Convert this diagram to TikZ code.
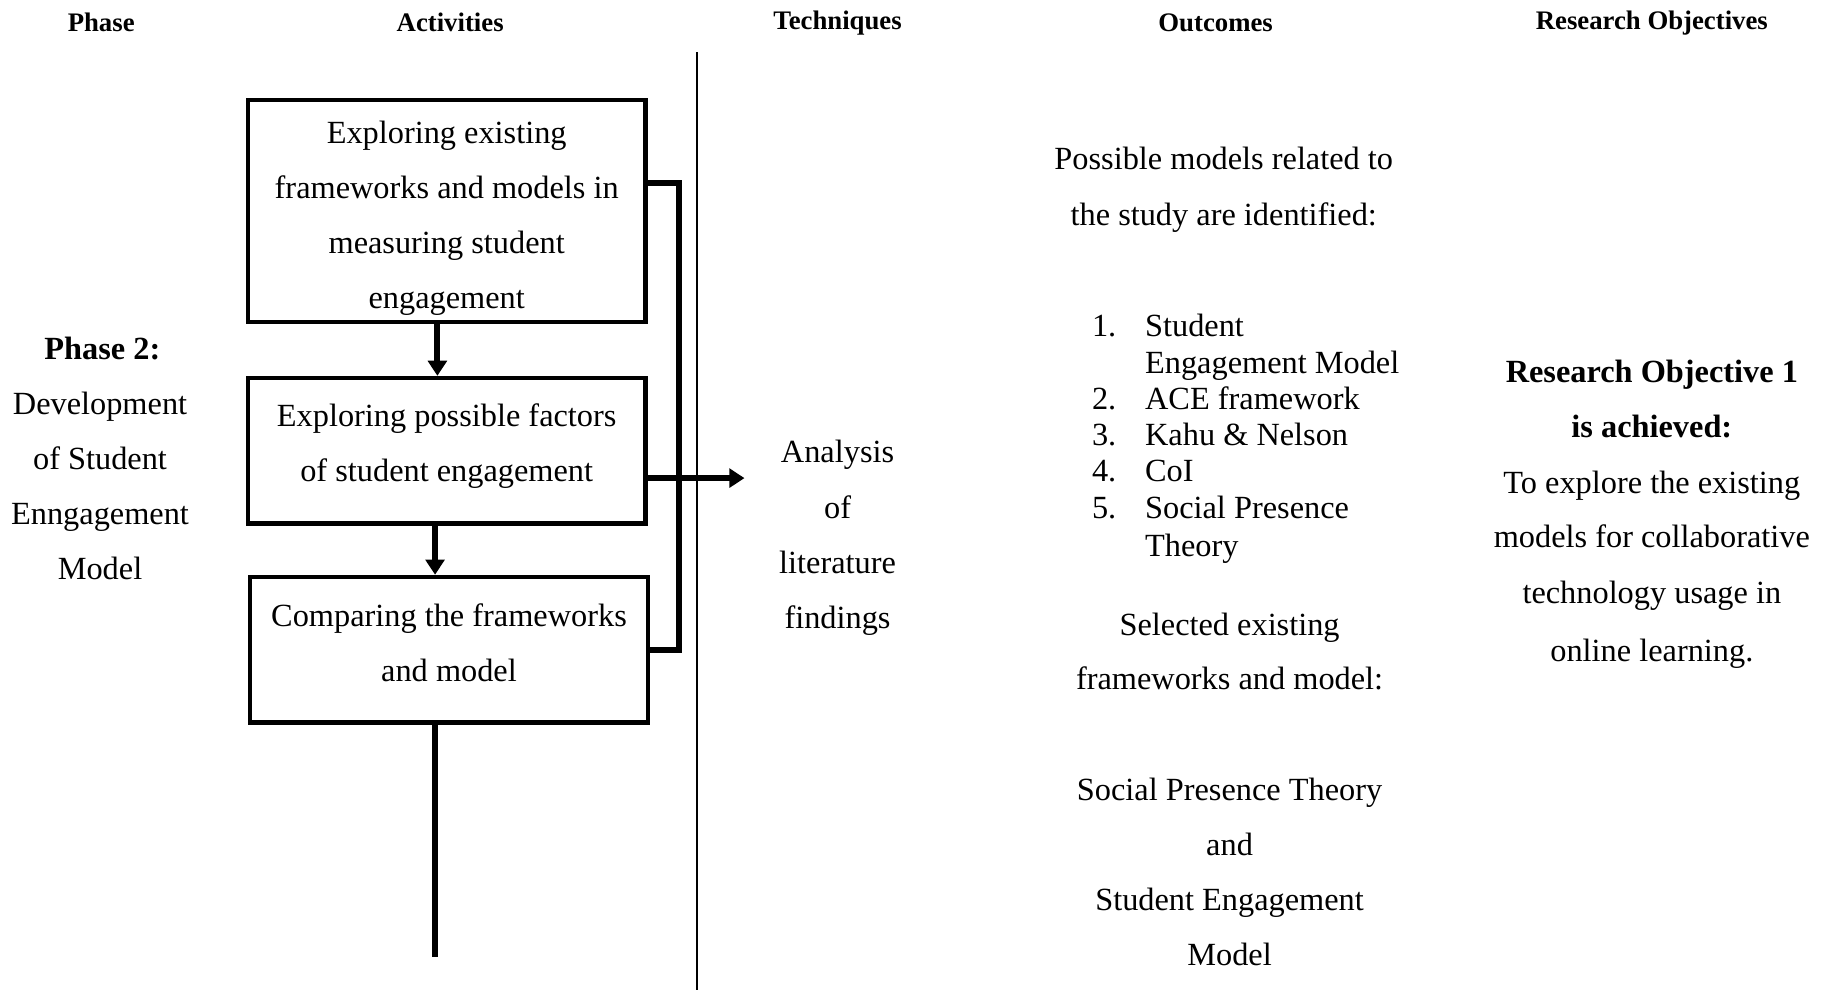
\documentclass[tikz,border=0pt]{standalone}
\usepackage{fontspec}
\setmainfont{Liberation Serif}
\usetikzlibrary{arrows.meta}
\begin{document}
\begin{tikzpicture}[x=0.5pt,y=-0.5pt,
  hdr/.style={font=\bfseries\fontsize{11.5}{14}\selectfont, anchor=base, inner sep=0pt},
  txt/.style={font=\fontsize{13.9}{16}\selectfont, anchor=base, inner sep=0pt},
  btxt/.style={font=\bfseries\fontsize{13.9}{16}\selectfont, anchor=base, inner sep=0pt},
  stepbox/.style={draw, line width=1.9pt, minimum width=171pt, inner sep=0pt},
  boxtext/.style={align=center, inner sep=0pt, font=\fontsize{13.9}{23.65}\selectfont},
  link/.style={line width=2.5pt},
  flow/.style={line width=2.5pt, -{Triangle[length=6.5pt,width=8pt]}},
  divider/.style={line width=1pt}]

\useasboundingbox (0,0) rectangle (1568,851);

% column headings
\node[hdr] (hPhase) at (87,27.5) {Phase};
\node[hdr] (hAct)   at (387,27.5) {Activities};
\node[hdr] (hTech)  at (720,25.5) {Techniques};
\node[hdr] (hOut)   at (1045,27.5) {Outcomes};
\node[hdr] (hRO)    at (1420,25.5) {Research Objectives};

% divider between activities and techniques
\coordinate (dtop) at (599,45);
\coordinate (dbot) at (599,851);
\draw[divider] (dtop) -- (dbot);

% phase
\node[btxt] (ph0) at (88,309) {Phase 2:};
\foreach \t [count=\i] in {Development, of Student, Enngagement, Model}
  \node[txt] (ph\i) at (86,{356+(\i-1)*47.4}) {\t};

% activity boxes and their texts
\node[stepbox, minimum height=95.5pt] (b1) at (384,181.5) {};
\node[stepbox, minimum height=62.5pt] (b2) at (384,387.5) {};
\node[stepbox, minimum height=62.5pt] (b3) at (386,558.5) {};
\node[boxtext] (b1t) at (384,187.5)
  {Exploring existing\\frameworks and models in\\measuring student\\engagement};
\node[boxtext] (b2t) at (384,383.5)
  {Exploring possible factors\\of student engagement};
\node[boxtext] (b3t) at (386,552.5)
  {Comparing the frameworks\\and model};

% flow between the boxes
\coordinate (c1) at (376,0);
\coordinate (c2) at (374,0);
\coordinate (tail) at (374,823);
\draw[flow] (b1.south -| c1) -- (b2.north -| c1);
\draw[flow] (b2.south -| c2) -- (b3.north -| c2);
\draw[link] (b3.south -| tail) -- (tail);

% feedback bracket and output to techniques
\coordinate (fb) at (584,157);
\draw[link] (b1.east |- fb) -- (fb) |- (b3.east);
\coordinate (out) at (640,411);
\draw[flow] (b2.east |- out) -- (out);

% techniques
\foreach \t [count=\i] in {Analysis, of, literature, findings}
  \node[txt] (tq\i) at (720,{398+(\i-1)*47.4}) {\t};

% outcomes
\node[txt] (o1) at (1052,146) {Possible models related to};
\node[txt] (o2) at (1052,194) {the study are identified:};

\foreach \n/\t/\yy [count=\i] in {1./Student/289, /Engagement Model/321,
    2./ACE framework/352, 3./Kahu \& Nelson/383, 4./CoI/414,
    5./Social Presence/446, /Theory/478}{
  \node[txt, anchor=base east] (ln\i) at (960,\yy) {\n};
  \node[txt, anchor=base west] (li\i) at (984,\yy) {\t};
}

\node[txt] (s1) at (1057,546) {Selected existing};
\node[txt] (s2) at (1057,593) {frameworks and model:};

\foreach \t [count=\i] in {Social Presence Theory, and, Student Engagement, Model}
  \node[txt] (sel\i) at (1057,{688+(\i-1)*47.4}) {\t};

% research objective
\node[btxt] (r1) at (1420,329) {Research Objective 1};
\node[btxt] (r2) at (1420,376) {is achieved:};
\foreach \t/\yy [count=\i] in {To explore the existing/424,
    models for collaborative/471, technology usage in/519, online learning./569}
  \node[txt] (rt\i) at (1420,\yy) {\t};

\end{tikzpicture}
\end{document}
